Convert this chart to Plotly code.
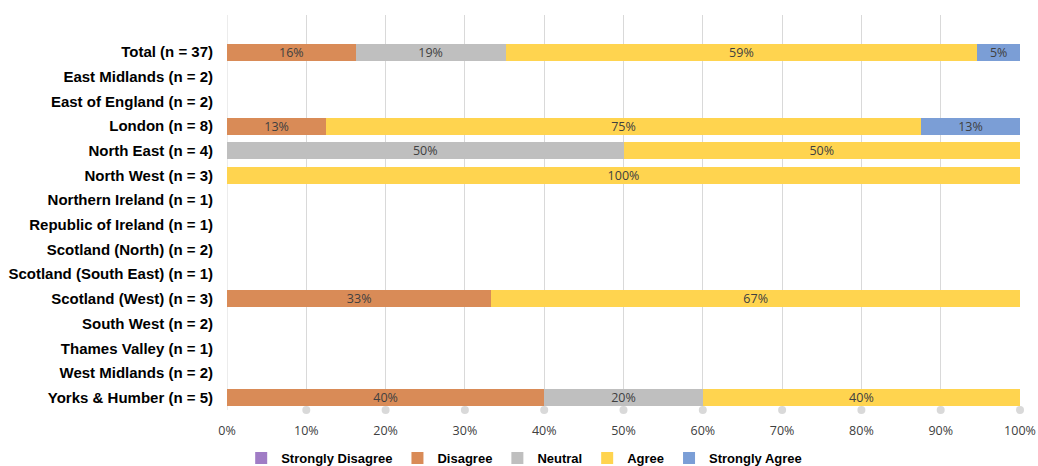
import plotly.graph_objects as go

categories = ["Total (n = 37)", "East Midlands (n = 2)", "East of England (n = 2)", "London (n = 8)",
              "North East (n = 4)", "North West (n = 3)", "Northern Ireland (n = 1)",
              "Republic of Ireland (n = 1)", "Scotland (North) (n = 2)", "Scotland (South East) (n = 1)",
              "Scotland (West) (n = 3)", "South West (n = 2)", "Thames Valley (n = 1)",
              "West Midlands (n = 2)", "Yorks & Humber (n = 5)"]

strongly_disagree = [0, 0, 0, 0, 0, 0, 0, 0, 0, 0, 0, 0, 0, 0, 0]
disagree = [16.22, 0, 0, 12.5, 0, 0, 0, 0, 0, 0, 33.33, 0, 0, 0, 40]
neutral = [18.92, 0, 0, 0, 50, 0, 0, 0, 0, 0, 0, 0, 0, 0, 20]
agree = [59.46, 0, 0, 75, 50, 100, 0, 0, 0, 0, 66.67, 0, 0, 0, 40]
strongly_agree = [5.41, 0, 0, 12.5, 0, 0, 0, 0, 0, 0, 0, 0, 0, 0, 0]

series = [
    ("Strongly Disagree", strongly_disagree, "#A07CC5"),
    ("Disagree", disagree, "#D98B57"),
    ("Neutral", neutral, "#BFBFBF"),
    ("Agree", agree, "#FFD44F"),
    ("Strongly Agree", strongly_agree, "#7B9ED6"),
]

tick_vals = [0, 10, 20, 30, 40, 50, 60, 70, 80, 90, 100]
dot_vals = [10, 20, 30, 40, 50, 60, 70, 80, 90, 100]

fig = go.Figure()
for name, vals, color in series:
    texts = [f"{int(v + 0.5)}%" if v > 0 else "" for v in vals]
    fig.add_trace(go.Bar(
        name=name, y=categories, x=vals, orientation="h",
        marker=dict(color=color, line=dict(width=0)),
        text=texts, textposition="inside", insidetextanchor="middle",
        constraintext="none",
        textfont=dict(family="Open Sans, Liberation Sans, sans-serif", size=12.5, color="#404040"),
        hoverinfo="skip",
    ))

fig.add_trace(go.Scatter(
    x=dot_vals, y=[0] * len(dot_vals), yaxis="y2", mode="markers",
    marker=dict(color="#D9D9D9", size=8), showlegend=False, hoverinfo="skip", cliponaxis=False,
))

fig.update_layout(
    barmode="stack",
    bargap=0.31,
    width=1038, height=466,
    margin=dict(l=227, r=18, t=15, b=56, autoexpand=False),
    paper_bgcolor="white", plot_bgcolor="white",
    uniformtext=dict(mode=False),
    xaxis=dict(range=[0, 100], tickvals=tick_vals, ticktext=[f"{t}%" for t in tick_vals],
               showgrid=True, gridcolor="#D9D9D9", gridwidth=1, zeroline=False,
               showline=False, ticks="", automargin=False, ticklabelstandoff=11,
               ticklabeloverflow="allow",
               tickfont=dict(family="Open Sans, Liberation Sans, sans-serif", size=12.5, color="#404040")),
    yaxis=dict(categoryorder="array", categoryarray=categories, range=[14.5, -1.5],
               showgrid=False, zeroline=False, ticks="", ticklabelstandoff=13, automargin=False,
               tickfont=dict(family="Liberation Sans, Arial, sans-serif", size=15, color="#000000",
                             weight="bold"),
               showline=False),
    yaxis2=dict(overlaying="y", range=[0, 1], visible=False, fixedrange=True),
    legend=dict(orientation="h", xref="container", yref="container", x=0.505, xanchor="center",
                y=0.017, yanchor="middle", traceorder="normal",
                font=dict(family="Liberation Sans, Arial, sans-serif", size=13, color="#000000",
                          weight="bold"),
                itemwidth=30, tracegroupgap=0),
    showlegend=True,
)
fig.update_layout(font=dict(family="Liberation Sans, Arial, sans-serif"))
fig.add_shape(type="line", xref="x", yref="paper", x0=0, x1=0, y0=0, y1=1,
              line=dict(color="#D9D9D9", width=1), layer="below")

fig.write_html("out.html", config={"displayModeBar": False},
               post_script="document.body.style.margin='0';document.body.style.overflow='hidden';")
